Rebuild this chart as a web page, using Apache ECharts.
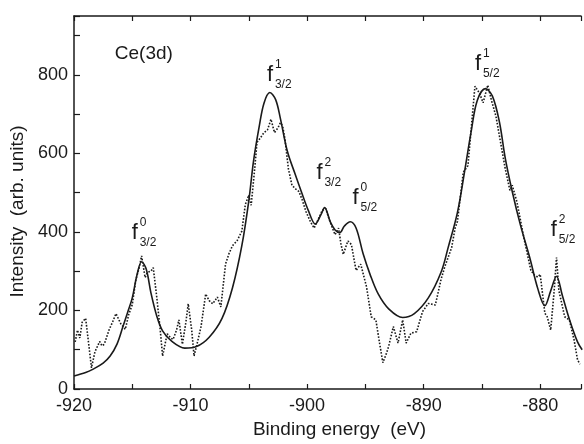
<!DOCTYPE html>
<html><head><meta charset="utf-8">
<script src="https://cdn.jsdelivr.net/npm/echarts@6/dist/echarts.min.js"></script>
<style>html,body{margin:0;padding:0;background:#fff}#c{width:584px;height:444px}</style>
</head><body><div id="c"></div>
<script>
// ---- data ----
const xTicks = [-920, -910, -900, -890, -880];
const yTicks = [0, 200, 400, 600, 800];

// fitted curve (solid)
const fitX = [-920, -919, -918.4, -917.5, -916.9, -916.3, -915.8, -915.4, -915.0, -914.6, -914.2, -913.8, -913.4, -912.9, -912.4, -911.6, -910.5, -909.5, -908.4, -907.3, -906.4, -905.6, -905.0, -904.6, -904.1, -903.7, -903.2, -902.7, -902.3, -901.7, -901.0, -900.5, -899.9, -899.3, -898.8, -898.5, -898.0, -897.6, -897.2, -896.8, -896.3, -895.8, -895.2, -894.6, -893.9, -893.0, -891.8, -890.8, -889.6, -888.5, -887.9, -887.1, -886.5, -885.9, -885.4, -884.7, -884.1, -883.5, -883.0, -882.4, -881.7, -880.9, -880.2, -879.6, -879.1, -878.6, -878.1, -877.5, -876.8, -876.4];
const fitY = [33, 42, 50, 66, 84, 115, 159, 195, 232, 290, 324, 305, 245, 186, 148, 121, 104, 108, 132, 180, 258, 365, 480, 580, 670, 728, 755, 737, 690, 606, 545, 503, 455, 420, 445, 462, 425, 405, 398, 415, 426, 410, 345, 292, 242, 204, 182, 192, 232, 298, 360, 450, 552, 660, 735, 765, 746, 680, 588, 503, 418, 335, 255, 212, 250, 287, 238, 178, 120, 100];

// measured spectrum (dotted)
const dataX = [-919.9, -919.7, -919.5, -919.3, -919.0, -918.8, -918.5, -918.2, -917.8, -917.6, -917.4, -917.0, -916.7, -916.4, -916.0, -915.6, -915.3, -915.0, -914.7, -914.4, -914.2, -913.9, -913.7, -913.4, -913.2, -912.9, -912.6, -912.4, -912.0, -911.7, -911.5, -911.2, -911.0, -910.7, -910.4, -910.2, -909.9, -909.7, -909.4, -909.1, -908.7, -908.4, -908.1, -907.7, -907.4, -907.0, -906.7, -906.4, -906.0, -905.6, -905.3, -905.0, -904.8, -904.5, -904.3, -904.0, -903.7, -903.4, -903.1, -902.8, -902.5, -902.3, -902.1, -901.9, -901.6, -901.3, -901.0, -900.7, -900.4, -900.1, -899.7, -899.4, -899.0, -898.7, -898.4, -898.2, -897.9, -897.6, -897.3, -897.1, -896.9, -896.5, -896.2, -895.8, -895.4, -894.9, -894.5, -894.1, -893.8, -893.5, -893.2, -893.0, -892.6, -892.2, -891.8, -891.5, -891.1, -890.6, -890.1, -889.6, -889.0, -888.8, -888.5, -888.2, -887.9, -887.6, -887.3, -887.1, -886.6, -886.2, -885.9, -885.6, -885.2, -884.9, -884.5, -884.2, -883.8, -883.4, -883.0, -882.6, -882.4, -882.0, -881.4, -880.8, -880.5, -880.2, -880.0, -879.6, -879.4, -879.1, -878.8, -878.6, -878.4, -877.9, -877.5, -877.1, -876.8, -876.6];
const dataY = [120, 150, 130, 170, 180, 130, 54, 95, 121, 110, 114, 150, 170, 192, 167, 152, 190, 215, 277, 310, 339, 284, 297, 300, 309, 234, 150, 84, 141, 130, 126, 150, 176, 114, 170, 217, 150, 84, 120, 159, 242, 225, 217, 234, 209, 318, 345, 365, 378, 402, 470, 494, 468, 560, 628, 640, 653, 660, 687, 653, 665, 678, 670, 636, 560, 519, 510, 503, 480, 452, 425, 410, 435, 455, 460, 440, 415, 393, 410, 370, 343, 377, 368, 302, 318, 260, 184, 176, 120, 67, 90, 109, 159, 117, 176, 117, 142, 146, 197, 218, 214, 240, 280, 310, 335, 360, 410, 427, 552, 569, 670, 771, 753, 729, 774, 737, 695, 628, 561, 506, 519, 477, 385, 302, 290, 285, 292, 193, 184, 150, 251, 335, 251, 184, 176, 126, 75, 63];

// peak labels: f^sup_sub, anchored at the left/baseline of the "f"
const peakSup = ['0', '1', '2', '0', '1', '2'];
const peakSub = ['3/2', '3/2', '3/2', '5/2', '5/2', '5/2'];
const peakX = [-915.05, -903.45, -899.2, -896.1, -885.6, -879.1];
const peakY = [378, 780, 531, 466, 807, 385];

const titleText = 'Ce(3d)';
const titlePos = [-916.5, 837];

// ---- chart ----
const FONT = '"Liberation Sans", Arial, sans-serif';
const INK = '#1a1a1a';
const chart = echarts.init(document.getElementById('c'), null, {renderer: 'canvas'});

const axisLine = {show: true, onZero: false, lineStyle: {color: INK, width: 1.5}};
const xCommon = {
  type: 'value', min: -920, max: -876.5, interval: 5,
  splitLine: {show: false},
  axisLine: axisLine,
  axisTick: {show: true, inside: true, length: 5, lineStyle: {color: INK, width: 1.2}}
};

chart.setOption({
  animation: false,
  backgroundColor: '#fff',
  grid: {left: 74, right: 0, top: 16, bottom: 51, containLabel: false},
  xAxis: [
    Object.assign({}, xCommon, {
      position: 'bottom',
      axisLabel: {
        fontSize: 18, color: INK, fontFamily: FONT, margin: 8,
        formatter: v => xTicks.indexOf(v) >= 0 ? String(v) : ''
      },
      name: 'Binding energy  (eV)', nameLocation: 'middle', nameGap: 31,
      nameTextStyle: {fontSize: 19, color: INK, fontFamily: FONT, padding: [0, 0, 0, 24]}
    }),
    Object.assign({}, xCommon, {position: 'top', axisLabel: {show: false}})
  ],
  yAxis: {
    type: 'value', min: 0, max: 950, interval: 100,
    splitLine: {show: false},
    axisLine: axisLine,
    axisTick: {show: true, inside: true, length: 6, lineStyle: {color: INK, width: 1.2}},
    axisLabel: {
      fontSize: 18, color: INK, fontFamily: FONT, margin: 6,
      formatter: v => yTicks.indexOf(v) >= 0 ? String(v) : ''
    },
    name: 'Intensity  (arb. units)', nameLocation: 'middle', nameGap: 39,
    nameTextStyle: {fontSize: 19, color: INK, fontFamily: FONT, padding: [0, 18, 0, 0]}
  },
  series: [
    {
      type: 'line', name: 'fit', symbol: 'none', smooth: 0.35,
      data: fitX.map((x, i) => [x, fitY[i]]),
      lineStyle: {color: INK, width: 1.6}, z: 3
    },
    {
      type: 'line', name: 'data', symbol: 'none',
      data: dataX.map((x, i) => [x, dataY[i]]),
      lineStyle: {color: INK, width: 1.6, type: [1.6, 1.6]}, z: 2
    }
  ]
});

// annotations placed through the chart's own coordinate conversion
const g = [];
const tp = chart.convertToPixel({gridIndex: 0}, titlePos);
g.push({type: 'text', x: tp[0], y: tp[1] - 7, style: {text: titleText, font: '19px ' + FONT, fill: INK, align: 'left', verticalAlign: 'middle'}});
for (let i = 0; i < peakX.length; i++) {
  const p = chart.convertToPixel({gridIndex: 0}, [peakX[i], peakY[i]]);
  g.push({type: 'text', x: p[0], y: p[1] - 8, style: {text: 'f', font: '22px ' + FONT, fill: INK, align: 'left', verticalAlign: 'middle'}});
  g.push({type: 'text', x: p[0] + 8, y: p[1] - 18, style: {text: peakSup[i], font: '12px ' + FONT, fill: INK, align: 'left', verticalAlign: 'middle'}});
  g.push({type: 'text', x: p[0] + 8, y: p[1] + 2, style: {text: peakSub[i], font: '12px ' + FONT, fill: INK, align: 'left', verticalAlign: 'middle'}});
}
chart.setOption({graphic: g});
</script>
</body></html>
